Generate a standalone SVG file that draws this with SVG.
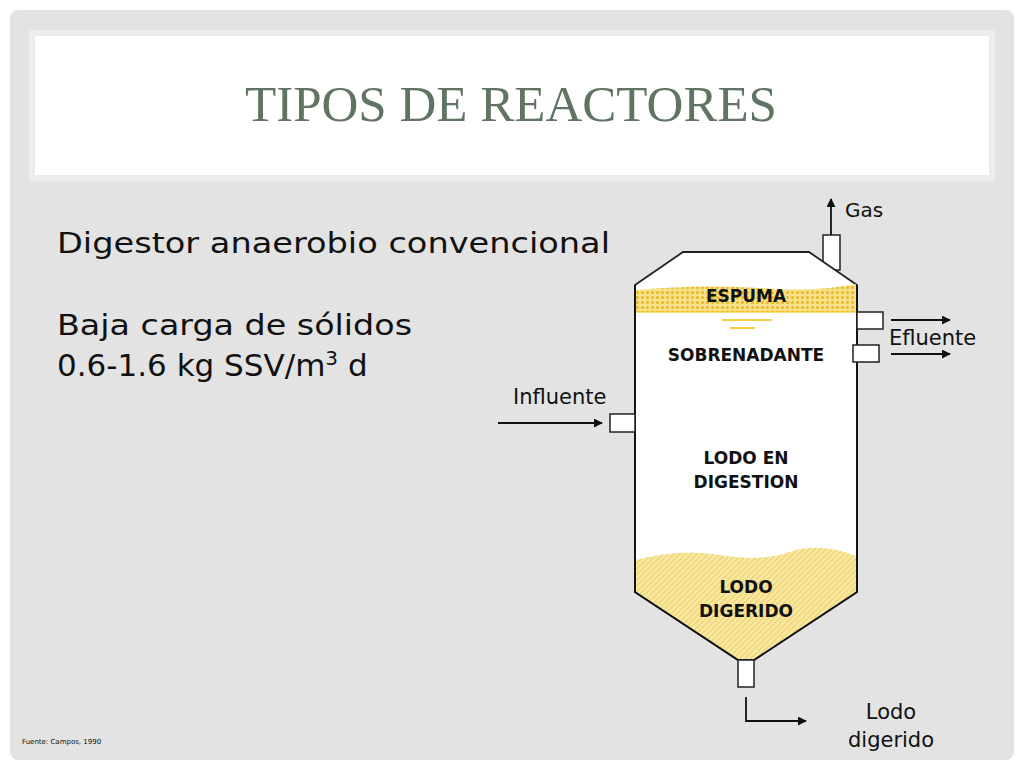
<svg xmlns="http://www.w3.org/2000/svg" width="1024" height="768" viewBox="0 0 1024 768">
<style>
.t{font-family:"DejaVu Sans",Verdana,sans-serif;fill:#111}
.b{font-family:"DejaVu Sans",Verdana,sans-serif;font-weight:bold;fill:#111;font-size:17px;text-anchor:middle}
.o{fill:#fff;stroke:#222;stroke-width:1.5}
.ln{stroke:#111;stroke-width:1.8;fill:none}
</style>
<defs>
<marker id="ar" viewBox="0 0 10 10" refX="9" refY="5" markerWidth="5" markerHeight="5" orient="auto"><path d="M0,0L10,5L0,10z" fill="#111"/></marker>
<pattern id="dots" width="5" height="5" patternUnits="userSpaceOnUse"><rect width="5" height="5" fill="#f7e08a"/><circle cx="2.5" cy="2.5" r="1.5" fill="#e8b820"/></pattern>
<pattern id="hatch" width="4" height="4" patternUnits="userSpaceOnUse" patternTransform="rotate(45)"><rect width="4" height="4" fill="#f8e7a0"/><line x1="0" y1="0" x2="0" y2="4" stroke="#e5c040" stroke-width="1.2"/></pattern>
</defs>
<rect width="1024" height="768" fill="#fff"/>
<rect x="10" y="10" width="1004" height="750" rx="8" fill="#e3e3e3"/>
<rect x="32" y="33" width="960" height="145" fill="#fff" stroke="#ececec" stroke-width="6"/>
<text x="511" y="121" text-anchor="middle" font-family="Liberation Serif,serif" font-size="50" fill="#617463" textLength="532" lengthAdjust="spacingAndGlyphs">TIPOS DE REACTORES</text>
<text class="t" x="57" y="253" font-size="29" textLength="553" lengthAdjust="spacingAndGlyphs">Digestor anaerobio convencional</text>
<text class="t" x="57" y="335" font-size="29" textLength="355" lengthAdjust="spacingAndGlyphs">Baja carga de sólidos</text>
<text class="t" x="57" y="376" font-size="31">0.6-1.6 kg SSV/m<tspan dy="-11" font-size="20">3</tspan><tspan dy="11"> d</tspan></text>
<text class="t" x="22" y="744" font-size="7">Fuente: Campos, 1990</text>
<g id="gas"><rect class="o" x="823" y="235" width="17" height="35"/><text class="t" x="845" y="217" font-size="20">Gas</text></g>
<g id="tank">
<path d="M683,252H809L857,285V592L754,660H738L635,592V285Z" fill="#fff" stroke="#222" stroke-width="1.8"/>
<path d="M636,290Q700,284 760,288T856,284V312H636Z" fill="url(#dots)"/>
<line x1="636" y1="312" x2="856" y2="312" stroke="#f0c000" stroke-width="1.2"/>
<line x1="722" y1="320" x2="772" y2="320" stroke="#f0c000" stroke-width="1.5"/>
<line x1="730" y1="328" x2="755" y2="328" stroke="#f0c000" stroke-width="1.5"/>
<path d="M636,560Q680,548 720,555T790,552T856,556V592L754,659H738L636,592Z" fill="url(#hatch)"/>
<path d="M635,285V592L738,660M754,660L857,592V285" class="ln"/>
<text class="b" x="746" y="302">ESPUMA</text>
<text class="b" x="746" y="361">SOBRENADANTE</text>
<text class="b" x="746" y="464">LODO EN</text>
<text class="b" x="746" y="488">DIGESTION</text>
<text class="b" x="746" y="593">LODO</text>
<text class="b" x="746" y="617">DIGERIDO</text>
</g>
<g id="efluente"><rect class="o" x="857" y="312" width="26" height="17"/><rect class="o" x="853" y="345" width="26" height="17"/><text class="t" x="889" y="345" font-size="21">Efluente</text></g>
<g id="influente"><rect class="o" x="610" y="414" width="25" height="18"/><text class="t" x="513" y="404" font-size="21">Influente</text></g>
<g id="lodo"><rect class="o" x="738" y="660" width="16" height="27"/><text class="t" x="891" y="719" font-size="21" text-anchor="middle">Lodo</text><text class="t" x="891" y="747" font-size="21" text-anchor="middle">digerido</text></g>
<g id="connectors" class="ln">
<line x1="831" y1="235" x2="831" y2="199" marker-end="url(#ar)"/>
<line x1="891" y1="320" x2="950" y2="320" marker-end="url(#ar)"/>
<line x1="891" y1="354" x2="950" y2="354" marker-end="url(#ar)"/>
<line x1="498" y1="423" x2="602" y2="423" marker-end="url(#ar)"/>
<path d="M746,697V721H806" marker-end="url(#ar)"/>
</g>
</svg>
